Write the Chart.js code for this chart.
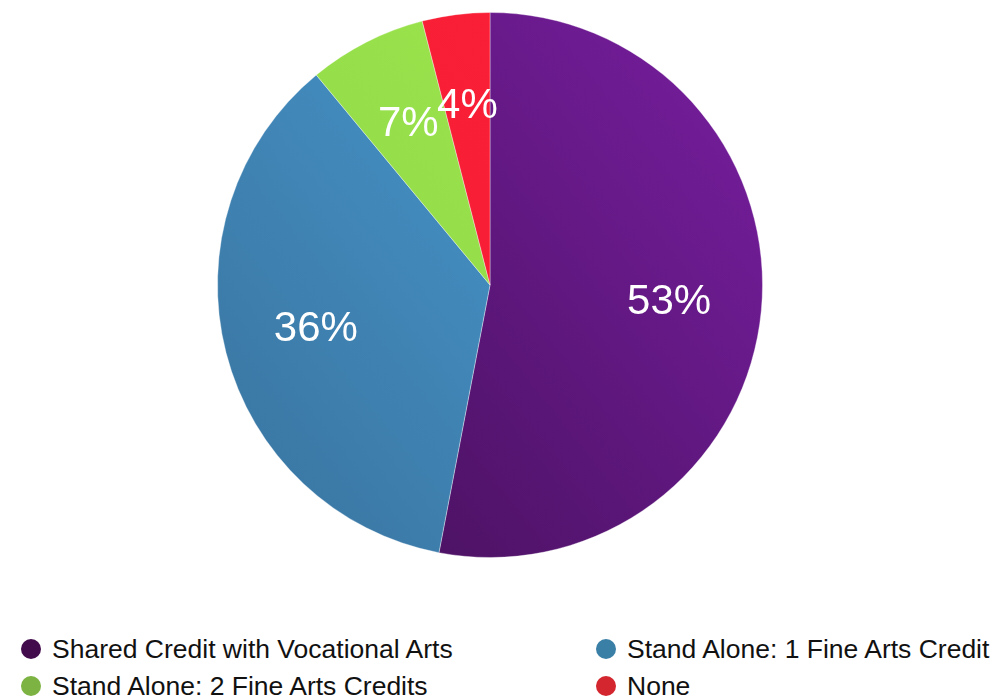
<!DOCTYPE html>
<html>
<head>
<meta charset="utf-8">
<script src="https://cdn.jsdelivr.net/npm/chart.js@4.4.1/dist/chart.umd.min.js"></script>
<style>
  html, body { margin: 0; padding: 0; background: #fff; }
  body { width: 995px; height: 698px; position: relative; overflow: hidden; font-family: "Liberation Sans", Arial, Helvetica, sans-serif; }
  #wrap { position: absolute; left: 0; top: 0; width: 995px; height: 600px; }
  #legend { position: absolute; left: 0; top: 634px; width: 995px; }
  .item { position: absolute; font-size: 26.5px; color: #111; white-space: nowrap; line-height: 30px; }
  .dot { position: absolute; width: 20px; height: 20px; border-radius: 50%; left: -31px; top: 5px; }
</style>
</head>
<body>
<div id="wrap"><canvas id="pieChart"></canvas></div>
<div id="legend"></div>
<script>
// data
const labels = ["Shared Credit with Vocational Arts", "Stand Alone: 1 Fine Arts Credit", "Stand Alone: 2 Fine Arts Credits", "None"];
const values = [53, 36, 7, 4];
const legendColors = ["#420c4c", "#3a7fa6", "#7cb342", "#d3262f"];
// slice gradient stops (light, dark)
const sliceColors = [["#8522b2", "#45105a"], ["#50ace8", "#3a76a2"], ["#a6ee52", "#8cd646"], ["#ff2139", "#f21c34"]];

// legend, two columns
const legendPos = [[52, 0], [627, 0], [52, 37], [627, 37]];
let legend = document.getElementById("legend");
labels.forEach((l, i) => {
  let d = document.createElement("div");
  d.className = "item";
  d.style.left = legendPos[i][0] + "px";
  d.style.top = legendPos[i][1] + "px";
  d.innerHTML = `<span class="dot" style="background:${legendColors[i]}"></span>${l}`;
  legend.appendChild(d);
});

const sliceFill = (ctx) => {
  const chart = ctx.chart;
  const a = chart.chartArea;
  if (!a) return sliceColors[ctx.dataIndex][0];
  const c = sliceColors[ctx.dataIndex];
  let g = chart.ctx.createLinearGradient(a.right, a.top, a.left + (a.right - a.left) * 0.3, a.bottom);
  g.addColorStop(0, c[0]);
  g.addColorStop(1, c[1]);
  return g;
};

// percent labels inside slices
const pctLabels = {
  id: "pctLabels",
  afterDatasetsDraw(chart) {
    const ctx = chart.ctx;
    const meta = chart.getDatasetMeta(0);
    const total = values.reduce((s, v) => s + v, 0);
    ctx.save();
    ctx.fillStyle = "#fff";
    ctx.font = "42px 'Liberation Sans', Arial, sans-serif";
    ctx.textAlign = "center";
    ctx.textBaseline = "middle";
    meta.data.forEach((arc, i) => {
      const mid = (arc.startAngle + arc.endAngle) / 2;
      const r = arc.outerRadius * 0.66;
      ctx.fillText(Math.round(values[i] / total * 100) + "%", arc.x + Math.cos(mid) * r, arc.y + Math.sin(mid) * r);
    });
    ctx.restore();
  }
};

let pieCtx = document.getElementById("pieChart").getContext("2d");
new Chart(pieCtx, {
  type: "pie",
  data: {
    labels: labels,
    datasets: [{
      data: values,
      backgroundColor: sliceFill,
      borderColor: "rgba(255,255,255,0.35)",
      borderWidth: 1
    }]
  },
  options: {
    responsive: true,
    maintainAspectRatio: false,
    animation: false,
    layout: { padding: { top: 12, bottom: 42, left: 0, right: 15 } },
    plugins: {
      legend: { display: false },
      tooltip: { enabled: false }
    }
  },
  plugins: [pctLabels]
});
</script>
</body>
</html>
